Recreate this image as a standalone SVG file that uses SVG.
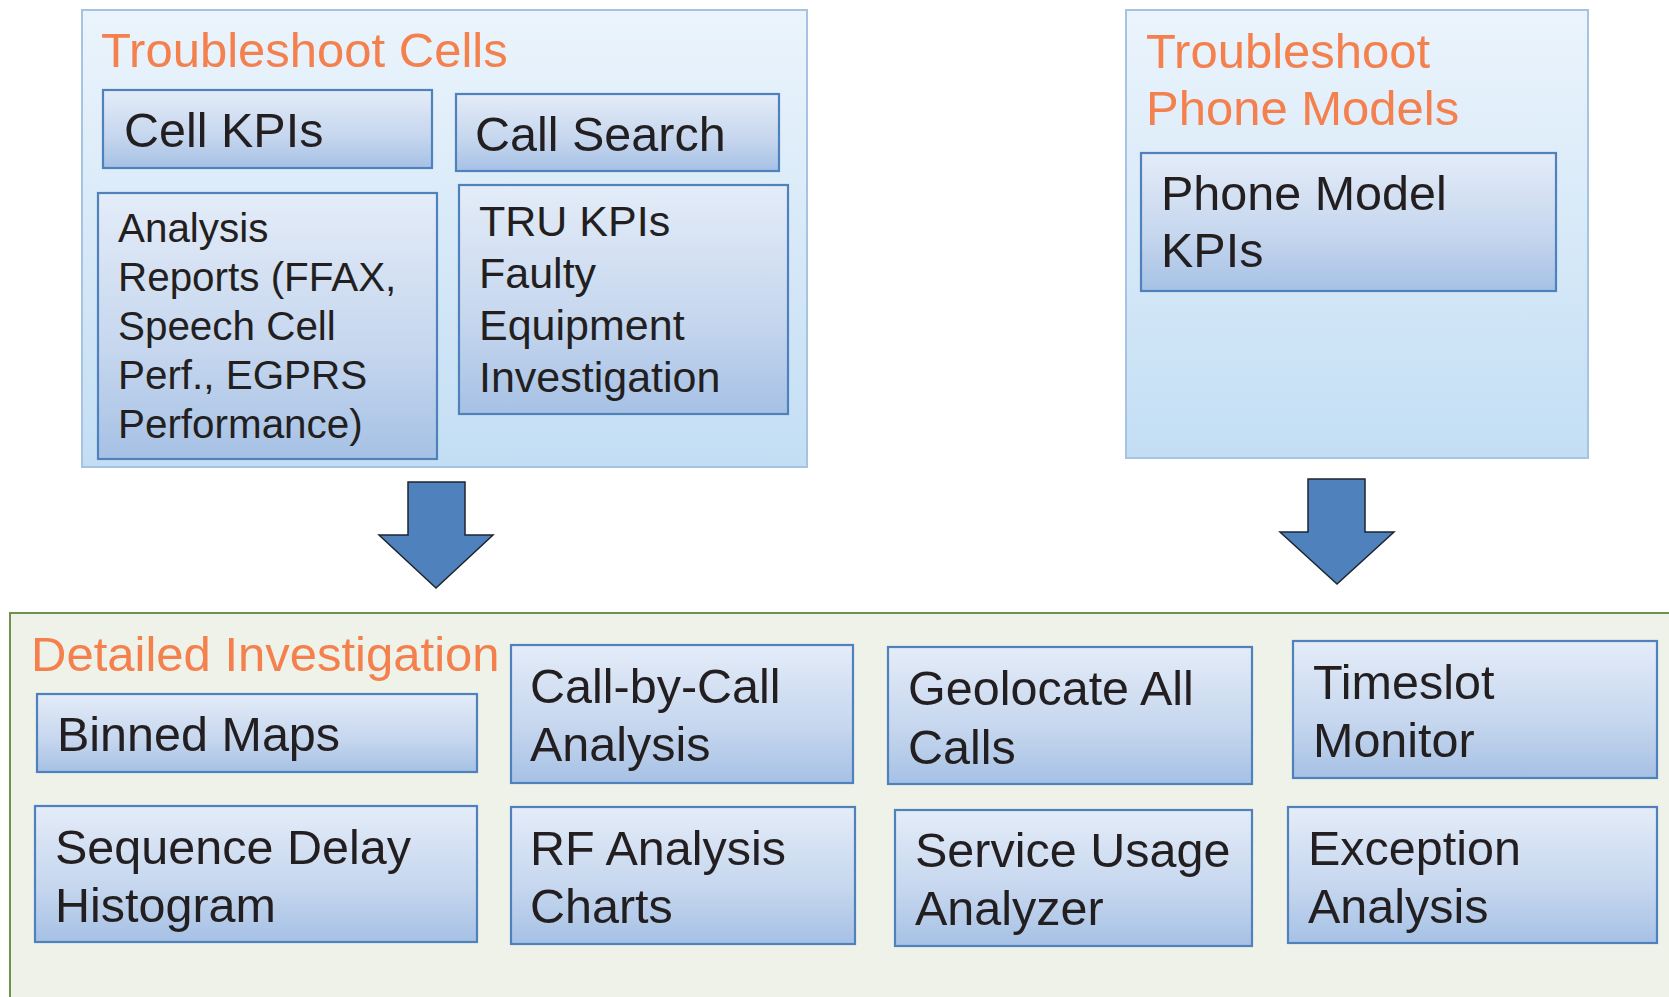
<svg xmlns="http://www.w3.org/2000/svg" width="1669" height="997" viewBox="0 0 1669 997">
  <defs>
    <linearGradient id="panelFill" x1="0" y1="0" x2="0" y2="1">
      <stop offset="0" stop-color="#EBF4FC"/>
      <stop offset="1" stop-color="#C3DEF4"/>
    </linearGradient>
    <linearGradient id="boxFill" x1="0" y1="0" x2="0" y2="1">
      <stop offset="0" stop-color="#E4ECF8"/>
      <stop offset="0.6" stop-color="#C5D6EE"/>
      <stop offset="1" stop-color="#A6C1E5"/>
    </linearGradient>
  </defs>
  <style>
    .panel { fill: url(#panelFill); stroke: #A6C3E2; stroke-width: 2; }
    .detail { fill: #EEF2E8; stroke: #71904A; stroke-width: 2; }
    .box { fill: url(#boxFill); stroke: #4F81BD; stroke-width: 2.2; }
    .title { font-family: "Liberation Sans", Arial, sans-serif; font-size: 49px; fill: #F4804E; }
    .label { font-family: "Liberation Sans", Arial, sans-serif; font-size: 48.5px; fill: #231F20; }
    .small { font-size: 40.4px; }
    .mid { font-size: 43px; }
    .arrow { fill: #4F81BD; stroke: #1E2530; stroke-width: 1.5; stroke-linejoin: miter; }
  </style>

  <rect width="1669" height="997" fill="#FFFFFF"/>

  <!-- Troubleshoot Cells panel -->
  <g id="troubleshoot-cells">
    <rect class="panel" x="82" y="10" width="725" height="457"/>
    <text class="title" x="101" y="67">Troubleshoot Cells</text>
  </g>
  <g id="cell-kpis">
    <rect class="box" x="103" y="90" width="329" height="78"/>
    <text class="label" x="124" y="147">Cell KPIs</text>
  </g>
  <g id="call-search">
    <rect class="box" x="456" y="94" width="323" height="77"/>
    <text class="label" x="475" y="151">Call Search</text>
  </g>
  <g id="analysis-reports">
    <rect class="box" x="98" y="193" width="339" height="266"/>
    <text class="label small" x="118" y="242">Analysis</text>
    <text class="label small" x="118" y="291">Reports (FFAX,</text>
    <text class="label small" x="118" y="340">Speech Cell</text>
    <text class="label small" x="118" y="389">Perf., EGPRS</text>
    <text class="label small" x="118" y="438">Performance)</text>
  </g>
  <g id="tru-kpis">
    <rect class="box" x="459" y="185" width="329" height="229"/>
    <text class="label mid" x="479" y="236">TRU KPIs</text>
    <text class="label mid" x="479" y="288">Faulty</text>
    <text class="label mid" x="479" y="340">Equipment</text>
    <text class="label mid" x="479" y="392">Investigation</text>
  </g>

  <!-- Troubleshoot Phone Models panel -->
  <g id="troubleshoot-phone-models">
    <rect class="panel" x="1126" y="10" width="462" height="448"/>
    <text class="title" x="1146" y="68">Troubleshoot</text>
    <text class="title" x="1146" y="125">Phone Models</text>
  </g>
  <g id="phone-model-kpis">
    <rect class="box" x="1141" y="153" width="415" height="138"/>
    <text class="label" x="1161" y="210">Phone Model</text>
    <text class="label" x="1161" y="267">KPIs</text>
  </g>

  <!-- Flow arrows -->
  <g id="connectors">
    <path class="arrow" d="M408,482 H465 V535 H493 L436,588 L379,535 H408 Z"/>
    <path class="arrow" d="M1308,479 H1365 V532 H1394 L1337,584 L1280,532 H1308 Z"/>
  </g>

  <!-- Detailed Investigation panel -->
  <g id="detailed-investigation">
    <rect class="detail" x="10" y="613" width="1680" height="420"/>
    <text class="title" x="31" y="671">Detailed Investigation</text>
  </g>
  <g id="binned-maps">
    <rect class="box" x="37" y="694" width="440" height="78"/>
    <text class="label" x="57" y="751">Binned Maps</text>
  </g>
  <g id="sequence-delay-histogram">
    <rect class="box" x="35" y="806" width="442" height="136"/>
    <text class="label" x="55" y="864">Sequence Delay</text>
    <text class="label" x="55" y="922">Histogram</text>
  </g>
  <g id="call-by-call-analysis">
    <rect class="box" x="511" y="645" width="342" height="138"/>
    <text class="label" x="530" y="703">Call-by-Call</text>
    <text class="label" x="530" y="761">Analysis</text>
  </g>
  <g id="rf-analysis-charts">
    <rect class="box" x="511" y="807" width="344" height="137"/>
    <text class="label" x="530" y="865">RF Analysis</text>
    <text class="label" x="530" y="923">Charts</text>
  </g>
  <g id="geolocate-all-calls">
    <rect class="box" x="888" y="647" width="364" height="137"/>
    <text class="label" x="908" y="705">Geolocate All</text>
    <text class="label" x="908" y="764">Calls</text>
  </g>
  <g id="service-usage-analyzer">
    <rect class="box" x="895" y="810" width="357" height="136"/>
    <text class="label" x="915" y="867">Service Usage</text>
    <text class="label" x="915" y="925">Analyzer</text>
  </g>
  <g id="timeslot-monitor">
    <rect class="box" x="1293" y="641" width="364" height="137"/>
    <text class="label" x="1313" y="699">Timeslot</text>
    <text class="label" x="1313" y="757">Monitor</text>
  </g>
  <g id="exception-analysis">
    <rect class="box" x="1288" y="807" width="369" height="136"/>
    <text class="label" x="1308" y="865">Exception</text>
    <text class="label" x="1308" y="923">Analysis</text>
  </g>
</svg>
